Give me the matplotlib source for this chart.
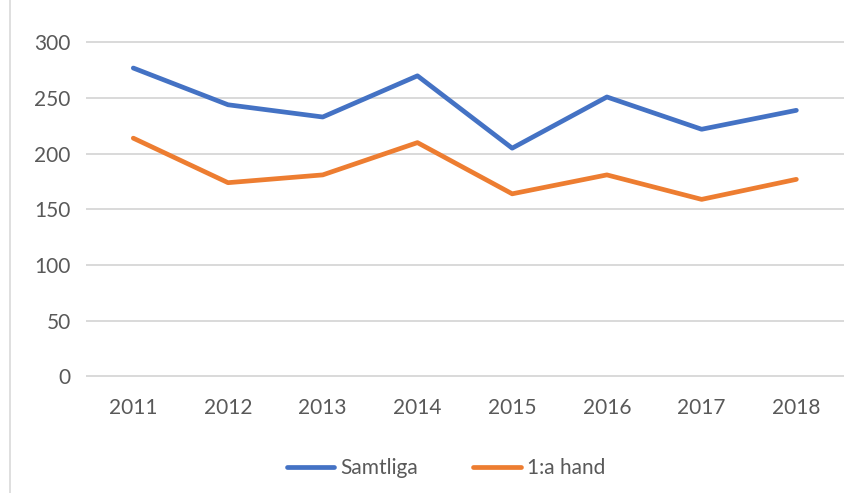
import matplotlib
matplotlib.use("Agg")
from matplotlib import pyplot as plt
from matplotlib.lines import Line2D

# Data
years = ['2011', '2012', '2013', '2014', '2015', '2016', '2017', '2018']
samtliga = [277, 244, 233, 270, 205, 251, 222, 239]
forsta_hand = [214, 174, 181, 210, 164, 181, 159, 177]

plt.rcParams['font.family'] = ['Lato', 'DejaVu Sans']

fig = plt.figure(figsize=(8.68, 4.93), dpi=100)
ax = fig.add_axes([0.099, 0.2343, 0.873, 0.6819])

x = range(len(years))
ax.plot(x, samtliga, color='#4472C4', lw=3.4, solid_capstyle='round', label='Samtliga')
ax.plot(x, forsta_hand, color='#ED7D31', lw=3.4, solid_capstyle='round', label='1:a hand')

ax.set_xlim(-0.5, len(years) - 0.5)
ax.set_ylim(-1, 301)
ax.set_yticks(range(0, 301, 50))
ax.set_xticks(list(x))
ax.set_xticklabels(years)
ax.grid(axis='y', color='#D9D9D9', lw=1.4)
ax.set_axisbelow(True)
for s in ax.spines.values():
    s.set_visible(False)
ax.tick_params(length=0, labelsize=15, colors='#595959', pad=11)
ax.tick_params(axis='x', pad=15)

ax.legend(loc='upper center', bbox_to_anchor=(0.475, -0.185), ncol=2, frameon=False,
          fontsize=15, labelcolor='#595959', handlelength=2.3, handletextpad=0.3,
          columnspacing=2.6)

# chart frame on left edge
fig.add_artist(Line2D([0.0115, 0.0115], [0, 1], color='#D9D9D9', lw=1.2, transform=fig.transFigure))

fig.savefig('out.png', dpi=100, facecolor='white')
